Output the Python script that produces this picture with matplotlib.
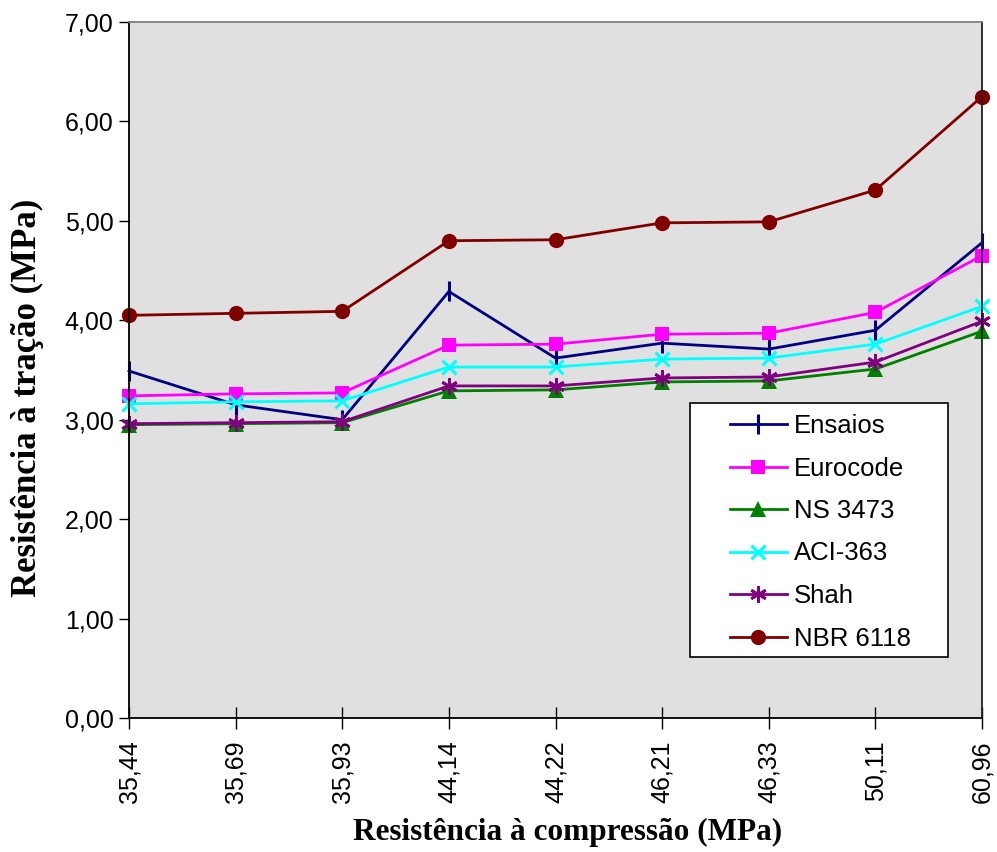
import matplotlib
matplotlib.use("Agg")
import matplotlib.pyplot as plt
from matplotlib.patches import Rectangle
from matplotlib.ticker import FuncFormatter

categories = ["35,44", "35,69", "35,93", "44,14", "44,22", "46,21", "46,33", "50,11", "60,96"]
ensaios = [3.49, 3.15, 3.00, 4.29, 3.62, 3.77, 3.71, 3.90, 4.78]
eurocode = [3.24, 3.26, 3.27, 3.75, 3.76, 3.86, 3.87, 4.08, 4.65]
ns3473 = [2.95, 2.96, 2.97, 3.29, 3.30, 3.38, 3.39, 3.51, 3.89]
aci363 = [3.16, 3.18, 3.19, 3.53, 3.53, 3.61, 3.62, 3.76, 4.14]
shah = [2.96, 2.97, 2.98, 3.34, 3.34, 3.42, 3.43, 3.58, 3.99]
nbr6118 = [4.05, 4.07, 4.09, 4.80, 4.81, 4.98, 4.99, 5.31, 6.25]
series_names = ["Ensaios", "Eurocode", "NS 3473", "ACI-363", "Shah", "NBR 6118"]

W, H = 997, 852
fig = plt.figure(figsize=(W / 100, H / 100), dpi=100)
fig.patch.set_facecolor("white")
L, R, T, B = 129, 982, 22, 718
ax = fig.add_axes([L / W, 1 - B / H, (R - L) / W, (B - T) / H])
ax.set_facecolor("#E0E0E0")

x = list(range(len(categories)))
styles = [
    (ensaios, "#000080", dict(marker="|", ms=15, mew=2.2)),
    (eurocode, "#FF00FF", dict(marker="s", ms=10, mew=0)),
    (ns3473, "#008000", dict(marker="^", ms=11, mew=0)),
    (aci363, "#00FFFF", dict(marker="x", ms=10, mew=2.2)),
    (shah, "#800080", dict(marker=(6, 2, 0), ms=12, mew=2.0)),
    (nbr6118, "#800000", dict(marker="o", ms=11, mew=0)),
]
for (vals, col, mk), name in zip(styles, series_names):
    ax.plot(x, vals, color=col, lw=2, label=name, markerfacecolor=col,
            markeredgecolor=col, clip_on=False, **mk)

ax.set_xlim(0, len(categories) - 1)
ax.set_ylim(0, 7)
ax.set_yticks([0, 1, 2, 3, 4, 5, 6, 7])
ax.yaxis.set_major_formatter(FuncFormatter(lambda v, p: f"{v:.2f}".replace(".", ",")))
ax.set_xticks(x)
ax.set_xticklabels(categories, rotation=90)

tickfont = "Liberation Sans"
for lab in ax.get_xticklabels() + ax.get_yticklabels():
    lab.set_fontfamily(tickfont)
    lab.set_fontsize(18)
ax.tick_params(axis="y", direction="out", length=7, width=1, pad=4)
ax.tick_params(axis="x", direction="inout", length=16, width=1, pad=8)

for s in ["left", "bottom"]:
    ax.spines[s].set_color("black")
    ax.spines[s].set_linewidth(1.3)
ax.spines["right"].set_color("#202020")
ax.spines["right"].set_linewidth(1.3)
ax.spines["top"].set_color("#808080")
ax.spines["top"].set_linewidth(1.3)

ax.set_xlabel("Resistência à compressão (MPa)", fontfamily="Liberation Serif",
              fontweight="bold", fontsize=22.5)
ax.set_ylabel("Resistência à tração (MPa)", fontfamily="Liberation Serif",
              fontweight="bold", fontsize=25)
ax.xaxis.set_label_coords((567.5 - L) / (R - L), (B - 818) / (B - T))
ax.yaxis.set_label_coords((44 - L) / (R - L), (B - 397.5) / (B - T))

# legend box
bx0, by0, bx1, by1 = 690, 403, 948, 657
ax.add_patch(Rectangle((bx0 / W, 1 - by1 / H), (bx1 - bx0) / W, (by1 - by0) / H,
                       transform=fig.transFigure, facecolor="white", edgecolor="black",
                       lw=1.2, clip_on=False, zorder=4))
leg = ax.legend(loc="upper left", bbox_to_anchor=(730 / W, 1 - 414 / H),
                bbox_transform=fig.transFigure, frameon=False, borderpad=0,
                borderaxespad=0, handlelength=2.2, handletextpad=0.3,
                labelspacing=0.72, prop={"family": tickfont, "size": 18.5})
leg.set_zorder(5)

fig.savefig("out.png", dpi=100)
